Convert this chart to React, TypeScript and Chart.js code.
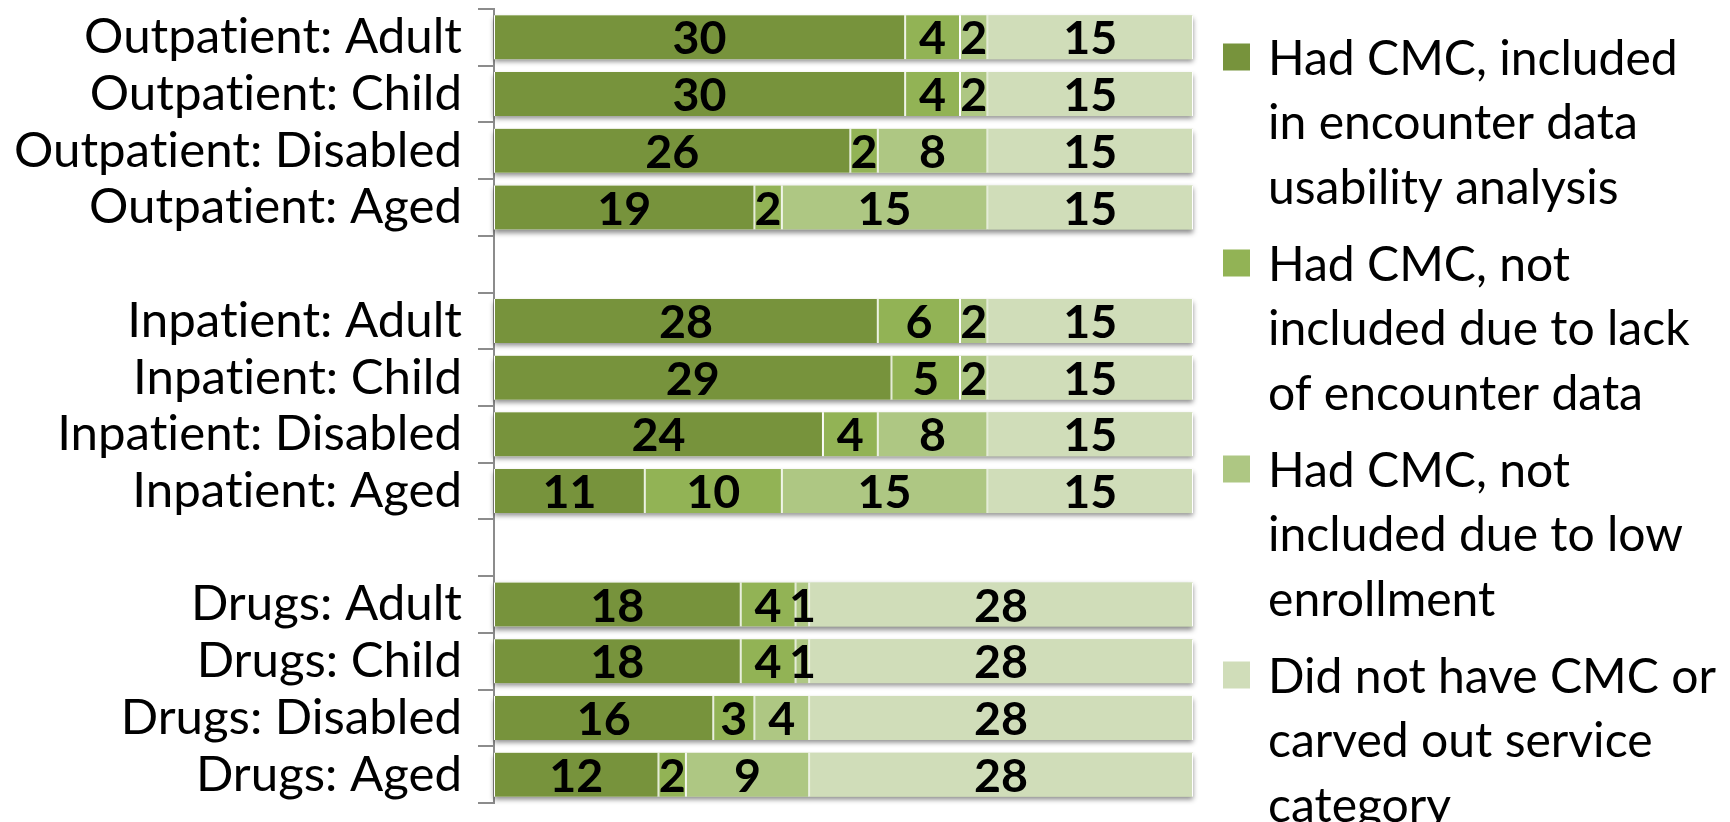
import React, { useEffect, useRef } from "react";
import { Chart, registerables } from "chart.js";

Chart.register(...registerables);

// ---------- data ----------
const categories = [
  "Outpatient: Adult",
  "Outpatient: Child",
  "Outpatient: Disabled",
  "Outpatient: Aged",
  "",
  "Inpatient: Adult",
  "Inpatient: Child",
  "Inpatient: Disabled",
  "Inpatient: Aged",
  "",
  "Drugs: Adult",
  "Drugs: Child",
  "Drugs: Disabled",
  "Drugs: Aged",
];

const includedValues = [30, 30, 26, 19, null, 28, 29, 24, 11, null, 18, 18, 16, 12];
const lackDataValues = [4, 4, 2, 2, null, 6, 5, 4, 10, null, 4, 4, 3, 2];
const lowEnrollValues = [2, 2, 8, 15, null, 2, 2, 8, 15, null, 1, 1, 4, 9];
const noCmcValues = [15, 15, 15, 15, null, 15, 15, 15, 15, null, 28, 28, 28, 28];

const seriesLines = [
  ["Had CMC, included", "in encounter data", "usability analysis"],
  ["Had CMC, not", "included due to lack", "of encounter data"],
  ["Had CMC, not", "included due to low", "enrollment"],
  ["Did not have CMC or", "carved out service", "category"],
];

const seriesColors = ["#77933C", "#92B355", "#AEC783", "#D0DDB9"];
const axisMax = 51;

// ---------- helpers ----------
const FAMILY = "Lato, 'Open Sans', sans-serif";

// break the optional "ti" ligature of Lato with an invisible non-joiner
const noLig = (s: string) => s.replace(/ti/g, "t\u200Ci");

function fitFont(text: string, weight: string, target: number): number {
  const c = document.createElement("canvas").getContext("2d")!;
  c.font = `${weight} 100px ${FAMILY}`;
  const w = c.measureText(text).width;
  return (100 * target) / w;
}

export default function App() {
  const ref = useRef<HTMLCanvasElement | null>(null);

  useEffect(() => {
    if (!ref.current) return;
    const labelSize = fitFont("Outpatient: Disabled", "normal", 449);
    const legendSize = fitFont("Did not have CMC or", "normal", 448);
    const valueSize = fitFont("30", "bold", 54);

    const seriesValues = [includedValues, lackDataValues, lowEnrollValues, noCmcValues];

    const shadowPlugin = {
      id: "rowShadow",
      beforeDatasetsDraw(chart: any) {
        const ctx = chart.ctx;
        const first = chart.getDatasetMeta(0);
        const last = chart.getDatasetMeta(chart.data.datasets.length - 1);
        ctx.save();
        ctx.shadowColor = "rgba(0,0,0,0.45)";
        ctx.shadowBlur = 5;
        ctx.shadowOffsetY = 3;
        ctx.fillStyle = seriesColors[3];
        first.data.forEach((el: any, i: number) => {
          if (includedValues[i] == null) return;
          const end = last.data[i];
          const p = el.getProps(["x", "y", "base", "height"], true);
          const q = end.getProps(["x"], true);
          ctx.fillRect(p.base, p.y - p.height / 2, q.x - p.base, p.height);
        });
        ctx.restore();
      },
    };

    const valueLabelPlugin = {
      id: "valueLabels",
      afterDatasetsDraw(chart: any) {
        const ctx = chart.ctx;
        ctx.save();
        ctx.font = `bold ${valueSize}px ${FAMILY}`;
        ctx.fillStyle = "#000";
        ctx.textAlign = "center";
        ctx.textBaseline = "middle";
        chart.data.datasets.forEach((ds: any, di: number) => {
          const meta = chart.getDatasetMeta(di);
          meta.data.forEach((el: any, i: number) => {
            const v = ds.data[i];
            if (v == null) return;
            const p = el.getProps(["x", "y", "base"], true);
            ctx.fillText(String(v), (p.x + p.base) / 2, p.y + 2);
          });
        });
        ctx.restore();
      },
    };

    const legendPlugin = {
      id: "wrappedLegend",
      afterDraw(chart: any) {
        const ctx = chart.ctx;
        const boxX = 1223;
        const boxSize = 27;
        const textX = 1268;
        const firstY = 57;
        const lineH = 64.5;
        const itemStep = 206;
        ctx.save();
        ctx.font = `${legendSize}px ${FAMILY}`;
        ctx.fillStyle = "#000";
        ctx.textAlign = "left";
        ctx.textBaseline = "middle";
        chart.data.datasets.forEach((ds: any, di: number) => {
          const y0 = firstY + di * itemStep;
          ctx.fillStyle = ds.backgroundColor;
          ctx.fillRect(boxX, y0 - boxSize / 2, boxSize, boxSize);
          ctx.fillStyle = "#000";
          seriesLines[di].forEach((line, li) => {
            ctx.fillText(noLig(line), textX, y0 + li * lineH + 2);
          });
        });
        ctx.restore();
      },
    };

    const chart = new Chart(ref.current, {
      type: "bar",
      data: {
        labels: categories,
        datasets: seriesValues.map((vals, i) => ({
          label: seriesLines[i].join(" "),
          data: vals as any,
          backgroundColor: seriesColors[i],
          borderColor: "#FFFFFF",
          borderWidth: { left: 1, right: 1, top: 0, bottom: 0 } as any,
          borderSkipped: false as any,
          barPercentage: 0.776,
          categoryPercentage: 1,
        })),
      },
      options: {
        indexAxis: "y",
        animation: false,
        responsive: false,
        maintainAspectRatio: false,
        layout: { padding: { left: 0, right: 537, top: 9, bottom: 19 } },
        plugins: {
          legend: { display: false },
          tooltip: { enabled: false },
        },
        scales: {
          x: {
            type: "linear",
            stacked: true,
            min: 0,
            max: axisMax,
            display: false,
          },
          y: {
            type: "category",
            stacked: true,
            grid: {
              display: true,
              drawOnChartArea: false,
              drawTicks: true,
              tickLength: 16,
              color: "#8C8C8C",
              lineWidth: 2,
              offset: true,
            },
            border: { display: true, color: "#8C8C8C", width: 2 },
            ticks: {
              autoSkip: false,
              color: "#000",
              padding: 16,
              font: { family: FAMILY, size: labelSize },
              callback: (_v: any, i: number) => noLig(categories[i]),
            },
            afterFit: (s: any) => {
              s.width = 494;
              s.paddingTop = 0;
              s.paddingBottom = 0;
            },
          },
        },
      },
      plugins: [shadowPlugin, valueLabelPlugin, legendPlugin],
    });

    return () => chart.destroy();
  }, []);

  return (
    <div style={{ position: "absolute", left: 0, top: 0, width: 1730, height: 822, background: "#fff" }}>
      <canvas ref={ref} width={1730} height={822} style={{ width: 1730, height: 822, display: "block" }} />
    </div>
  );
}
